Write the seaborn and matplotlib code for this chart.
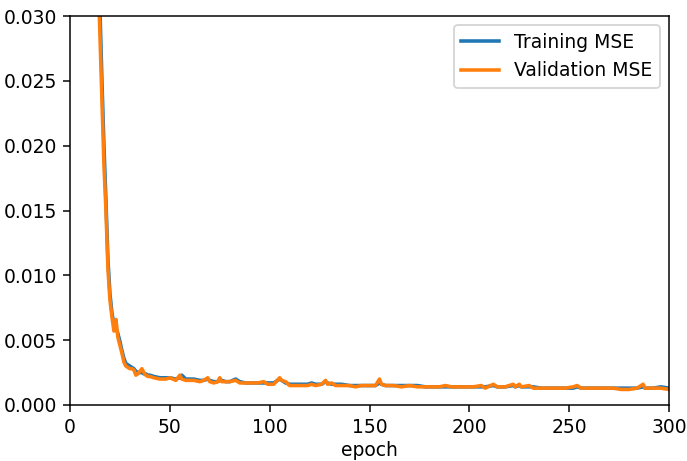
import seaborn as sns
import matplotlib.pyplot as plt
import pandas as pd

# Training curve values
epochs = [0, 3, 6, 9, 12, 13, 14, 15, 16, 17,
          18, 19, 20, 21, 22, 23, 24, 25, 26, 27,
          28, 29, 30, 31, 32, 33, 34, 35, 36, 37,
          38, 39, 40, 42, 45, 48, 50, 53, 55, 56,
          58, 60, 62, 65, 67, 69, 70, 72, 74, 75,
          76, 78, 80, 83, 85, 88, 91, 94, 97, 99,
          102, 105, 106, 108, 110, 113, 116, 119, 121, 123,
          126, 128, 129, 131, 133, 136, 140, 143, 146, 150,
          153, 155, 156, 158, 162, 166, 170, 174, 178, 182,
          185, 188, 191, 195, 198, 202, 206, 208, 212, 214,
          218, 222, 223, 225, 226, 230, 232, 236, 240, 244,
          248, 252, 254, 256, 260, 264, 268, 272, 276, 280,
          284, 287, 288, 292, 296, 300]

train_mse = [0.21, 0.16, 0.11, 0.075, 0.048, 0.042, 0.036, 0.0305, 0.025, 0.020,
             0.0158, 0.0112, 0.0086, 0.0071, 0.0062, 0.0060, 0.0055, 0.0049, 0.0042, 0.0036,
             0.0032, 0.0031, 0.0030, 0.0029, 0.0028, 0.0026, 0.0025, 0.0025, 0.0025, 0.0024,
             0.0024, 0.0023, 0.0023, 0.0022, 0.0021, 0.0021, 0.0021, 0.0020, 0.0021, 0.0023,
             0.0020, 0.0020, 0.0020, 0.0019, 0.0019, 0.0020, 0.0019, 0.0018, 0.0018, 0.0019,
             0.0019, 0.0018, 0.0018, 0.0020, 0.0018, 0.0017, 0.0017, 0.0017, 0.0017, 0.0017,
             0.0017, 0.0020, 0.0019, 0.0017, 0.0016, 0.0016, 0.0016, 0.0016, 0.0017, 0.0016,
             0.0016, 0.0018, 0.0017, 0.0016, 0.0016, 0.0016, 0.0015, 0.0015, 0.0015, 0.0015,
             0.0015, 0.0017, 0.0016, 0.0015, 0.0015, 0.0015, 0.0015, 0.0015, 0.0014, 0.0014,
             0.0014, 0.0014, 0.0014, 0.0014, 0.0014, 0.0014, 0.0014, 0.0014, 0.0015, 0.0014,
             0.0014, 0.0015, 0.0014, 0.0015, 0.0014, 0.0014, 0.0014, 0.0013, 0.0013, 0.0013,
             0.0013, 0.0013, 0.0014, 0.0013, 0.0013, 0.0013, 0.0013, 0.0013, 0.0013, 0.0013,
             0.0013, 0.0014, 0.0013, 0.0013, 0.0014, 0.0013]

val_mse = [0.20, 0.15, 0.10, 0.07, 0.045, 0.039, 0.0335, 0.0285, 0.0235, 0.0185,
           0.0150, 0.0105, 0.0081, 0.0068, 0.0057, 0.0066, 0.0052, 0.0046, 0.0040, 0.0033,
           0.0030, 0.0029, 0.0028, 0.0028, 0.0027, 0.0023, 0.0024, 0.0026, 0.0028, 0.0025,
           0.0023, 0.0022, 0.0022, 0.0021, 0.0020, 0.0020, 0.0021, 0.0019, 0.0023, 0.0020,
           0.0019, 0.0019, 0.0019, 0.0018, 0.0019, 0.0021, 0.0018, 0.0017, 0.0018, 0.0021,
           0.0018, 0.0018, 0.0018, 0.0019, 0.0017, 0.0017, 0.0017, 0.0017, 0.0018, 0.0016,
           0.0016, 0.0021, 0.0019, 0.0018, 0.0015, 0.0015, 0.0015, 0.0015, 0.0016, 0.0015,
           0.0016, 0.0019, 0.0016, 0.0017, 0.0015, 0.0015, 0.0015, 0.0014, 0.0015, 0.0015,
           0.0015, 0.0020, 0.0016, 0.0015, 0.0015, 0.0014, 0.0015, 0.0014, 0.0014, 0.0014,
           0.0014, 0.0015, 0.0014, 0.0014, 0.0014, 0.0014, 0.0015, 0.0013, 0.0016, 0.0014,
           0.0014, 0.0016, 0.0014, 0.0016, 0.0014, 0.0015, 0.0013, 0.0013, 0.0013, 0.0013,
           0.0013, 0.0014, 0.0015, 0.0013, 0.0013, 0.0013, 0.0013, 0.0013, 0.0012, 0.0012,
           0.0013, 0.0016, 0.0013, 0.0013, 0.0013, 0.0012]

series_names = ['Training MSE', 'Validation MSE']
colors = ['#1f77b4', '#ff7f0e']

# Long-form table for seaborn
df = pd.concat([
    pd.DataFrame({'epoch': epochs, 'mse': train_mse, 'series': series_names[0]}),
    pd.DataFrame({'epoch': epochs, 'mse': val_mse, 'series': series_names[1]}),
], ignore_index=True)

fig = plt.figure(figsize=(687 / 135, 461 / 135), dpi=135)
ax = fig.add_axes([70 / 687, 1 - 405 / 461, 599 / 687, 389 / 461])

sns.lineplot(data=df, x='epoch', y='mse', hue='series', palette=colors,
             linewidth=1.9, ax=ax)

ax.set_xlim(0, 300)
ax.set_ylim(0, 0.030)
ax.set_yticks([0.0, 0.005, 0.010, 0.015, 0.020, 0.025, 0.030])
ax.set_xlabel('epoch', labelpad=2)
ax.set_ylabel('')
ax.legend(title=None, loc='upper right')

fig.savefig('out.png', dpi=135)
